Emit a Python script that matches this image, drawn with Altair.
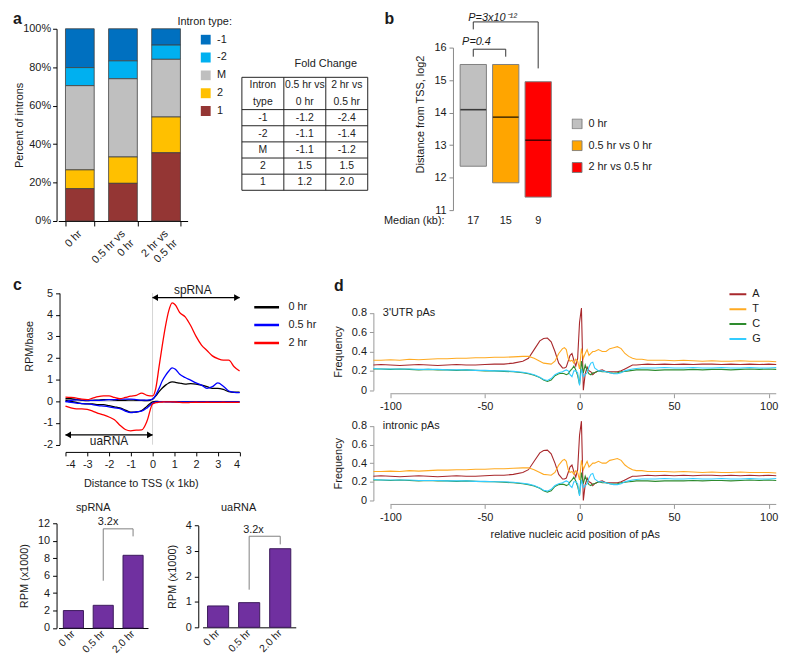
import altair as alt
import pandas as pd

FONT = "Liberation Sans"
W, H = 700, 500
INK = "#1a1a1a"


def cx(v):
    return v - 8


def cy(v):
    return v - 8


def band_scale(domain, c_first, c_last, bar_w):
    n = len(domain)
    step = (c_last - c_first) / (n - 1)
    pad = 1 - bar_w / step
    return alt.Scale(type="band", domain=domain,
                     range=[cx(c_first - step / 2), cx(c_last + step / 2)],
                     paddingInner=pad, paddingOuter=pad / 2)


def lin(domain, p0, p1, axis):
    f = cx if axis == "x" else cy
    return alt.Scale(type="linear", domain=domain, range=[f(p0), f(p1)], nice=False, zero=False)


def left_axis(x_ref, **kw):
    d = dict(orient="left", offset=-cx(x_ref), grid=False, tickSize=4, labelPadding=3)
    d.update(kw)
    return alt.Axis(**d)


def bottom_axis(y_ref, **kw):
    d = dict(orient="bottom", offset=cy(y_ref) - H, grid=False, tickSize=4, labelPadding=3)
    d.update(kw)
    return alt.Axis(**d)


def one():
    return pd.DataFrame({"k": [0]})


def free_text(txt, x_ref, y_ref, **kw):
    return alt.Chart(one()).mark_text(text=txt, **kw).encode(
        x=alt.value(cx(x_ref)), y=alt.value(cy(y_ref)))


# ====================== DATA ======================
# panel a
A_SAMPLES = ["0 hr", "0.5 hr vs 0 hr", "2 hr vs 0.5 hr"]
A_TYPES = ["-1", "-2", "M", "2", "1"]
A_COLORS = ["#0070C0", "#00B0F0", "#BFBFBF", "#FFC000", "#943634"]
A_PCT_N1 = [20.2, 16.7, 8.5]
A_PCT_N2 = [9.4, 9.3, 7.4]
A_PCT_M = [43.8, 40.7, 30.0]
A_PCT_2 = [9.8, 13.7, 18.6]
A_PCT_1 = [16.8, 19.6, 35.5]

# fold-change table
T_HEAD1 = ["Intron", "0.5 hr vs", "2 hr vs"]
T_HEAD2 = ["type", "0 hr", "0.5 hr"]
T_TYPES = ["-1", "-2", "M", "2", "1"]
T_FC_05 = ["-1.2", "-1.1", "-1.1", "1.5", "1.2"]
T_FC_2 = ["-2.4", "-1.4", "-1.2", "1.5", "2.0"]

# panel b
B_GROUPS = ["0 hr", "0.5 hr vs 0 hr", "2 hr vs 0.5 hr"]
B_COLORS = ["#C0C0C0", "#FFA500", "#FF0000"]
B_Q1 = [12.35, 11.84, 11.40]
B_Q3 = [15.48, 15.48, 14.95]
B_MED = [14.09, 13.86, 13.15]
B_MEDIAN_KB = ["17", "15", "9"]
B_P_SMALL = "P=0.4"
B_P_BIG = "P=3x10\u207b\u00b9\u00b2"

# panel c (metagene)
C_X = [-4, -3.75, -3.5, -3.25, -3, -2.75, -2.5, -2.25, -2, -1.75, -1.5, -1.25, -1, -0.75,
       -0.5, -0.25, 0, 0.15, 0.3, 0.45, 0.6, 0.75, 0.9, 1.05, 1.25, 1.5, 1.75, 2, 2.25, 2.5,
       2.75, 3, 3.25, 3.5, 3.75, 4]
C_0HR_SENSE = [0.12, 0.12, 0.08, 0.05, 0.03, 0.05, 0.06, 0.08, 0.08, 0.06, 0.05, 0.05, 0.06,
               0.05, 0.05, 0.03, 0.10, 0.25, 0.45, 0.62, 0.75, 0.85, 0.90, 0.88, 0.84, 0.80,
               0.82, 0.80, 0.75, 0.68, 0.60, 0.60, 0.55, 0.45, 0.42, 0.42]
C_0HR_ANTI = [0.05, 0.0, -0.05, -0.10, -0.12, -0.12, -0.15, -0.15, -0.20, -0.25, -0.30, -0.40,
              -0.50, -0.50, -0.42, -0.22, -0.02, 0.0, -0.01, -0.01, -0.01, -0.01, -0.02, -0.02,
              -0.02, -0.02, -0.02, -0.02, -0.02, -0.02, -0.02, -0.02, -0.02, -0.02, -0.02, -0.02]
C_05HR_SENSE = [-0.02, 0.05, 0.07, 0.06, 0.05, 0.05, 0.05, 0.06, 0.08, 0.08, 0.10, 0.10, 0.10,
                0.08, 0.06, 0.06, 0.10, 0.30, 0.60, 0.95, 1.20, 1.40, 1.55, 1.48, 1.25, 1.10,
                0.98, 0.85, 0.75, 0.60, 0.68, 0.85, 0.70, 0.48, 0.42, 0.40]
C_05HR_ANTI = [0.0, -0.05, -0.08, -0.10, -0.12, -0.15, -0.20, -0.22, -0.25, -0.30, -0.33, -0.45,
               -0.52, -0.48, -0.45, -0.30, -0.08, -0.02, -0.01, -0.01, -0.02, -0.02, -0.02, -0.02,
               -0.02, -0.02, -0.02, -0.02, -0.02, -0.02, -0.03, -0.03, -0.02, -0.02, -0.02, -0.02]
C_2HR_SENSE = [0.20, 0.18, 0.15, 0.10, 0.08, 0.15, 0.22, 0.25, 0.25, 0.18, 0.12, 0.18, 0.24,
               0.28, 0.38, 0.28, 0.25, 0.60, 1.60, 2.60, 3.50, 4.20, 4.55, 4.45, 4.10, 3.90,
               3.50, 3.00, 2.60, 2.35, 2.10, 1.97, 1.90, 1.90, 1.60, 1.40]
C_2HR_ANTI = [-0.22, -0.30, -0.35, -0.35, -0.37, -0.45, -0.55, -0.62, -0.72, -0.85, -1.10, -1.30,
              -1.36, -1.33, -1.32, -0.90, -0.12, -0.06, -0.04, -0.03, -0.02, -0.02, -0.02, -0.03,
              -0.05, -0.06, -0.05, -0.04, -0.05, -0.04, -0.05, -0.05, -0.04, -0.05, -0.05, -0.05]
C_CONDS = ["0 hr", "0.5 hr", "2 hr"]
C_COLORS = ["#000000", "#0000FF", "#FF0000"]

# panel c bottom bars
RPM_TIMES = ["0 hr", "0.5 hr", "2.0 hr"]
SP_RPM = [2.0, 2.6, 8.33]
UA_RPM = [0.84, 0.97, 3.09]
FOLD_LABEL = "3.2x"

# panel d (nucleotide frequency)
D_POS = [-109, -105, -100, -95, -90, -85, -80, -75, -70, -65, -60, -55, -50, -45, -40, -35,
         -30, -27, -24, -21, -19, -17, -15, -13, -11, -9,
         -8, -7, -6, -5, -4, -3, -2, -1, 0, 1, 2, 3, 4, 5, 6, 7, 8,
         10, 12, 14, 16, 18, 20, 22, 24, 26, 28, 30,
         33, 36, 40, 45, 50, 55, 60, 65, 70, 75, 80, 85, 90, 95, 100, 104]
D_A = [0.26, 0.265, 0.26, 0.255, 0.26, 0.265, 0.26, 0.255, 0.26, 0.265, 0.26, 0.26, 0.265, 0.27, 0.27, 0.28,
       0.30, 0.33, 0.42, 0.51, 0.535, 0.54, 0.50, 0.40, 0.28, 0.23,
       0.23, 0.24, 0.30, 0.36, 0.38, 0.31, 0.25, 0.33, 0.70, 0.85, 0.0, 0.17, 0.24, 0.20, 0.19, 0.16, 0.18,
       0.20, 0.21, 0.19, 0.19, 0.19, 0.19, 0.20, 0.22, 0.24, 0.26, 0.26,
       0.265, 0.27, 0.265, 0.27, 0.265, 0.27, 0.265, 0.27, 0.27, 0.265, 0.27, 0.265, 0.27, 0.265, 0.27, 0.265]
D_T = [0.31, 0.31, 0.315, 0.31, 0.32, 0.315, 0.32, 0.325, 0.325, 0.33, 0.33, 0.335, 0.335, 0.34, 0.34, 0.345,
       0.35, 0.35, 0.33, 0.30, 0.28, 0.275, 0.27, 0.30, 0.38, 0.43,
       0.44, 0.42, 0.33, 0.30, 0.31, 0.28, 0.32, 0.30, 0.22, 0.43, 0.33, 0.38, 0.42, 0.36, 0.38, 0.40, 0.40,
       0.42, 0.40, 0.40, 0.43, 0.44, 0.45, 0.43, 0.38, 0.35, 0.33, 0.32,
       0.32, 0.31, 0.31, 0.31, 0.305, 0.31, 0.305, 0.30, 0.305, 0.30, 0.30, 0.305, 0.30, 0.30, 0.30, 0.295]
D_C = [0.22, 0.22, 0.215, 0.22, 0.215, 0.21, 0.215, 0.21, 0.21, 0.205, 0.21, 0.205, 0.20, 0.20, 0.195, 0.19,
       0.18, 0.17, 0.155, 0.13, 0.105, 0.09, 0.105, 0.15, 0.17, 0.175,
       0.17, 0.16, 0.17, 0.20, 0.22, 0.25, 0.21, 0.15, 0.06, 0.30, 0.18, 0.26, 0.20, 0.17, 0.16, 0.18, 0.18,
       0.20, 0.19, 0.19, 0.18, 0.175, 0.18, 0.19, 0.195, 0.20, 0.205, 0.21,
       0.21, 0.21, 0.205, 0.21, 0.21, 0.21, 0.215, 0.21, 0.215, 0.215, 0.21, 0.215, 0.22, 0.215, 0.22, 0.215]
D_G = [0.225, 0.22, 0.22, 0.22, 0.22, 0.215, 0.215, 0.215, 0.21, 0.21, 0.21, 0.205, 0.205, 0.20, 0.20, 0.195,
       0.185, 0.175, 0.16, 0.135, 0.11, 0.10, 0.12, 0.16, 0.18, 0.19,
       0.20, 0.21, 0.20, 0.16, 0.14, 0.20, 0.20, 0.18, 0.05, 0.22, 0.14, 0.16, 0.18, 0.24, 0.28, 0.29, 0.23,
       0.20, 0.20, 0.19, 0.18, 0.17, 0.17, 0.18, 0.20, 0.21, 0.22, 0.225,
       0.23, 0.23, 0.23, 0.235, 0.23, 0.23, 0.235, 0.23, 0.23, 0.235, 0.23, 0.23, 0.235, 0.23, 0.23, 0.235]
D_NUCS = ["A", "T", "C", "G"]
D_COLORS = ["#A8282C", "#FFAA22", "#2E8B2E", "#33CCFF"]
D_TICKS = [-100, -50, 0, 50, 100]

units = []

# ====================== PANEL A ======================
a_rows = []
for k, (t, vals) in enumerate(zip(A_TYPES, [A_PCT_N1, A_PCT_N2, A_PCT_M, A_PCT_2, A_PCT_1])):
    for s, v in zip(A_SAMPLES, vals):
        a_rows.append({"sample": s, "itype": t, "pct": v, "stk": len(A_TYPES) - k})

xA = alt.X("sample:N", sort=A_SAMPLES, scale=band_scale(A_SAMPLES, 75.5, 162.5, 29),
           axis=bottom_axis(220, title=None, labelAngle=-45, labelAlign="right",
                            labelBaseline="middle", labelPadding=6, tickSize=5, tickBand="extent",
                            labelExpr="isValid(datum.value) ? split(replace(datum.value, 'vs ', 'vs|'), '|') : ''"))
yA = alt.Y("pct:Q", stack="zero", scale=lin([0, 100], 220, 26, "y"),
           axis=left_axis(52, title="Percent of introns", values=[0, 20, 40, 60, 80, 100],
                          labelExpr="datum.value + '%'", tickSize=4, labelPadding=2,
                          titleX=7 - cx(52), titleBaseline="middle"))
cA = alt.Color("itype:N", scale=alt.Scale(domain=A_TYPES, range=A_COLORS),
               legend=alt.Legend(orient="none", legendX=cx(197), legendY=cy(31.5), title=None,
                                 symbolType="square", symbolSize=100, symbolStrokeWidth=0, clipHeight=11,
                                 labelOffset=6, rowPadding=6, padding=0))
units.append(alt.Chart(pd.DataFrame(a_rows)).mark_bar(stroke="#404040", strokeWidth=0.8).encode(
    x=xA, y=yA, color=cA, order=alt.Order("stk:Q")))
units.append(free_text("Intron type:", 174, 19, align="left", baseline="middle", fontSize=11))

# ====================== TABLE ======================
t_lines = [T_HEAD1, T_HEAD2] + [list(r) for r in zip(T_TYPES, T_FC_05, T_FC_2)]
n_r, n_c = len(t_lines), len(T_HEAD1)
t_cells = pd.DataFrame([{"col": j + 0.5, "row": i + 0.5, "txt": t}
                        for i, line in enumerate(t_lines) for j, t in enumerate(line)])
t_rules = pd.DataFrame(
    [{"x": 0, "x2": n_c, "y": i, "y2": i} for i in [0] + list(range(2, n_r + 1))]
    + [{"x": j, "x2": j, "y": 0, "y2": n_r} for j in range(n_c + 1)])


def sx_t():
    return lin([0, n_c], 239, 366, "x")


def sy_t():
    return lin([0, n_r], 75, 189, "y")


units.append(alt.Chart(t_rules).mark_rule(color="#222", strokeWidth=1).encode(
    x=alt.X("x:Q", scale=sx_t(), axis=None), x2="x2:Q",
    y=alt.Y("y:Q", scale=sy_t(), axis=None), y2="y2:Q"))
units.append(alt.Chart(t_cells).mark_text(fontSize=10.5, color="#222").encode(
    x=alt.X("col:Q", scale=sx_t(), axis=None), y=alt.Y("row:Q", scale=sy_t(), axis=None), text="txt:N"))
units.append(alt.Chart(pd.DataFrame({"col": [2.0], "row": [-0.8], "txt": ["Fold Change"]})).mark_text(
    fontSize=11, color="#222").encode(
    x=alt.X("col:Q", scale=sx_t(), axis=None), y=alt.Y("row:Q", scale=sy_t(), axis=None), text="txt:N"))

# ====================== PANEL B ======================
b_df = pd.DataFrame({"grp": B_GROUPS, "q1": B_Q1, "q3": B_Q3, "med": B_MED})


def sxB():
    return band_scale(B_GROUPS, 472.5, 538.0, 26.5)


def syB():
    return lin([11, 16], 209, 45, "y")


med_expr = " : ".join(f"datum.value == '{g}' ? '{m}'" for g, m in zip(B_GROUPS[:-1], B_MEDIAN_KB[:-1])) \
    + f" : '{B_MEDIAN_KB[-1]}'"
xB = alt.X("grp:N", sort=B_GROUPS, scale=sxB(),
           axis=bottom_axis(211, title="Median (kb):", domain=False, ticks=False, labelAngle=0,
                            labelPadding=3, labelExpr=med_expr, titleAngle=0, titleAlign="right",
                            titleBaseline="top", titleX=cx(443), titleY=3))
yB = alt.Y("q1:Q", scale=syB(), axis=left_axis(452, title="Distance from TSS, log2", values=[11, 12, 13, 14, 15, 16],
                                               domainColor="#888", tickColor="#888", titlePadding=8,
                                               titleY=cy(112)))
cB = alt.Color("grp:N", scale=alt.Scale(domain=B_GROUPS, range=B_COLORS),
               legend=alt.Legend(orient="none", legendX=cx(571.7), legendY=cy(116.5), title=None,
                                 symbolType="square", symbolSize=100, symbolStrokeColor="#7f7f7f",
                                 symbolStrokeWidth=1, clipHeight=11, labelOffset=6, rowPadding=10, padding=0))
units.append(alt.Chart(b_df).mark_bar(stroke="#7f7f7f", strokeWidth=1).encode(x=xB, y=yB, y2="q3:Q", color=cB))
units.append(alt.Chart(b_df).mark_tick(color="black", thickness=1.6, size=26).encode(
    x=alt.X("grp:N", sort=B_GROUPS, scale=sxB(), axis=None),
    y=alt.Y("med:Q", scale=syB(), axis=None)))
br_rows = []
for bid, (g1, g2, ya, yt, yb) in enumerate([(B_GROUPS[0], B_GROUPS[1], 15.72, 15.95, 15.72),
                                            (B_GROUPS[0], B_GROUPS[2], 16.56, 16.79, 15.36)]):
    for o, (g, yv) in enumerate([(g1, ya), (g1, yt), (g2, yt), (g2, yb)]):
        br_rows.append({"grp": g, "yv": yv, "bid": bid, "o": o})
units.append(alt.Chart(pd.DataFrame(br_rows)).mark_line(color="#333", strokeWidth=1).encode(
    x=alt.X("grp:N", sort=B_GROUPS, scale=sxB(), axis=None),
    y=alt.Y("yv:Q", scale=syB(), axis=None), detail="bid:N", order="o:Q"))
units.append(alt.Chart(pd.DataFrame({"grp": [B_GROUPS[0], B_GROUPS[1]], "yv": [16.17, 16.9],
                                     "txt": [B_P_SMALL, B_P_BIG], "dx": [16.5, 0]})).mark_text(
    fontStyle="italic", fontSize=11, baseline="middle").encode(
    x=alt.X("grp:N", sort=B_GROUPS, scale=sxB(), axis=None),
    y=alt.Y("yv:Q", scale=syB(), axis=None), text="txt:N",
    xOffset=alt.XOffset("dx:Q", scale=None)))

# ====================== PANEL C (lines) ======================
c_rows = []
for cond, sense, anti in zip(C_CONDS, [C_0HR_SENSE, C_05HR_SENSE, C_2HR_SENSE],
                             [C_0HR_ANTI, C_05HR_ANTI, C_2HR_ANTI]):
    for strand, vals in (("sense", sense), ("anti", anti)):
        for xv, yv in zip(C_X, vals):
            c_rows.append({"x": xv, "y": yv, "cond": cond, "strand": strand})


def sxC():
    return lin([-4, 4], 61, 236.7, "x")


def syC():
    return lin([-2, 5], 445.7, 292.7, "y")


zero_df = pd.DataFrame({"x": [-4, 0], "x2": [4, 0], "y": [0, -2], "y2": [0, 5]})
units.append(alt.Chart(zero_df).mark_rule(color="#d4d4d4", strokeWidth=1).encode(
    x=alt.X("x:Q", scale=sxC(), axis=None), x2="x2:Q", y=alt.Y("y:Q", scale=syC(), axis=None), y2="y2:Q"))
units.append(alt.Chart(pd.DataFrame(c_rows)).mark_line(strokeWidth=1.3, interpolate="monotone").encode(
    x=alt.X("x:Q", scale=sxC(), axis=bottom_axis(453, title="Distance to TSS (x 1kb)", values=list(range(-4, 5)),
                                                labelExpr="'' + datum.value", titlePadding=8,
                                                titleX=cx(137))),
    y=alt.Y("y:Q", scale=syC(), axis=left_axis(55, title="RPM/base", values=list(range(-2, 6)),
                                               labelExpr="'' + datum.value", titlePadding=8,
                                               titleY=cy(346))),
    color=alt.Color("cond:N", scale=alt.Scale(domain=C_CONDS, range=C_COLORS),
                    legend=alt.Legend(orient="none", legendX=cx(250), legendY=cy(301.5), title=None,
                                      symbolType="stroke", symbolSize=625, symbolStrokeWidth=2.5,
                                      clipHeight=11, labelOffset=8, rowPadding=6, padding=0)),
    detail="strand:N"))
arrow_df = pd.DataFrame({"x": [0, -4], "x2": [4, 0], "y": [4.79, -1.55]})
units.append(alt.Chart(arrow_df).mark_rule(color="black", strokeWidth=1.3).encode(
    x=alt.X("x:Q", scale=sxC(), axis=None), x2="x2:Q", y=alt.Y("y:Q", scale=syC(), axis=None)))
units.append(alt.Chart(pd.DataFrame({"x": [0.12, -3.88], "y": [4.79, -1.55]})).mark_point(
    shape="triangle-left", filled=True, color="black", size=45, opacity=1).encode(
    x=alt.X("x:Q", scale=sxC(), axis=None), y=alt.Y("y:Q", scale=syC(), axis=None)))
units.append(alt.Chart(pd.DataFrame({"x": [3.88, -0.12], "y": [4.79, -1.55]})).mark_point(
    shape="triangle-right", filled=True, color="black", size=45, opacity=1).encode(
    x=alt.X("x:Q", scale=sxC(), axis=None), y=alt.Y("y:Q", scale=syC(), axis=None)))
units.append(alt.Chart(pd.DataFrame({"x": [1.85, -2.0], "y": [5.12, -1.85], "t": ["spRNA", "uaRNA"]})).mark_text(
    fontSize=12, baseline="middle").encode(
    x=alt.X("x:Q", scale=sxC(), axis=None), y=alt.Y("y:Q", scale=syC(), axis=None), text="t:N"))


# ====================== PANEL C (bars) ======================
SHIFT = -6  # small upward shift so the rotated labels stay inside the page


def rpm_panel(values, c_first, c_last, bar_w, y_max, y_step, y0_ref, ytop_ref, axis_x_ref,
              br_low, br_top, br_right, fold_y, title, title_y):
    y0_ref += SHIFT
    ytop_ref += SHIFT

    def sx():
        return band_scale(RPM_TIMES, c_first, c_last, bar_w)

    def sy():
        return lin([0, y_max], y0_ref, ytop_ref, "y")

    df = pd.DataFrame({"t": RPM_TIMES, "v": values})
    bars = alt.Chart(df).mark_bar(color="#7030A0", stroke="#3C1A5B", strokeWidth=1).encode(
        x=alt.X("t:N", sort=RPM_TIMES, scale=sx(),
                axis=bottom_axis(y0_ref, title=None, ticks=False, labelAngle=-45, labelAlign="right",
                                 labelBaseline="middle", labelPadding=4, labelFontSize=10.5)),
        y=alt.Y("v:Q", scale=sy(), axis=left_axis(axis_x_ref, title="RPM (x1000)",
                                                   values=list(range(0, y_max + 1, y_step)), titlePadding=8)))
    bdf = pd.DataFrame({"t": [RPM_TIMES[1], RPM_TIMES[1], RPM_TIMES[2], RPM_TIMES[2]],
                        "v": [br_low, br_top, br_top, br_right], "o": [0, 1, 2, 3]})
    br = alt.Chart(bdf).mark_line(color="#7f7f7f", strokeWidth=1).encode(
        x=alt.X("t:N", sort=RPM_TIMES, scale=sx(), axis=None),
        y=alt.Y("v:Q", scale=sy(), axis=None), order="o:Q")
    txt = alt.Chart(pd.DataFrame({"t": [RPM_TIMES[1], RPM_TIMES[1]], "v": [fold_y, title_y],
                                  "s": [FOLD_LABEL, title], "dx": [15, 0]})).mark_text(
        fontSize=11, baseline="middle").encode(
        x=alt.X("t:N", sort=RPM_TIMES, scale=sx(), axis=None),
        y=alt.Y("v:Q", scale=sy(), axis=None), text="s:N", xOffset=alt.XOffset("dx:Q", scale=None))
    return [bars, br, txt]


units += rpm_panel(SP_RPM, 69, 129.2, 20.3, 12, 2, 636.7, 531, 52, 5.42, 11.36, 10.5, 12.1, "spRNA", 13.8)
units += rpm_panel(UA_RPM, 215, 277.7, 21.3, 4, 1, 636, 533.3, 195, 1.48, 3.58, 3.26, 3.81, "uaRNA", 4.7)

# ====================== PANEL D ======================
d_rows = []
for nuc, vals in zip(D_NUCS, [D_A, D_T, D_C, D_G]):
    for p, v in zip(D_POS, vals):
        d_rows.append({"pos": p, "f": v, "nuc": nuc})
d_df = pd.DataFrame(d_rows)
D_DOMAIN = [-109, 104]


def sxD():
    return alt.Scale(type="linear", domain=D_DOMAIN,
                     range=[cx(371.7), cx(371.7 + (D_DOMAIN[1] - D_DOMAIN[0]) * 1.9085)],
                     nice=False, zero=False)


def d_panel(y0_ref, ytop_ref, xaxis_ref, xtitle, tag, legend):
    def sy():
        return lin([0, 0.8], y0_ref, ytop_ref, "y")

    ax_kw = dict(values=D_TICKS, labelExpr="'' + datum.value", domain=False,
                 tickColor="#999", title=xtitle if xtitle else None, titlePadding=6)
    lines = alt.Chart(d_df).mark_line(strokeWidth=1.1).encode(
        x=alt.X("pos:Q", scale=sxD(), axis=bottom_axis(xaxis_ref, **ax_kw)),
        y=alt.Y("f:Q", scale=sy(), axis=left_axis(371.7, title="Frequency", values=[0, 0.2, 0.4, 0.6, 0.8],
                                                  labelExpr="'' + datum.value", domainColor="#999",
                                                  tickColor="#999", titlePadding=8)),
        color=alt.Color("nuc:N", scale=alt.Scale(domain=D_NUCS, range=D_COLORS), legend=legend))
    # x-axis baseline that starts at the first tick, as in the original figure
    base_y = -(xaxis_ref - y0_ref) * 0.8 / (y0_ref - ytop_ref)
    baseline = alt.Chart(pd.DataFrame({"pos": [D_TICKS[0]], "pos2": [D_DOMAIN[1]], "f": [base_y]})).mark_rule(
        color="#999", strokeWidth=1).encode(
        x=alt.X("pos:Q", scale=sxD(), axis=None), x2="pos2:Q", y=alt.Y("f:Q", scale=sy(), axis=None))
    tag_t = alt.Chart(pd.DataFrame({"pos": [-104], "f": [0.8], "s": [tag]})).mark_text(
        fontSize=11, align="left", baseline="middle").encode(
        x=alt.X("pos:Q", scale=sxD(), axis=None), y=alt.Y("f:Q", scale=sy(), axis=None), text="s:N")
    return [lines, baseline, tag_t]


leg_d = alt.Legend(orient="none", legendX=cx(730), legendY=cy(288.5), title=None, symbolType="stroke",
                   symbolSize=289, symbolStrokeWidth=2, clipHeight=11, labelOffset=5, rowPadding=3, padding=0)
units += d_panel(390.7, 312.7, 394.3, "", "3'UTR pAs", leg_d)
units += d_panel(502, 426.7, 506, "relative nucleic acid position of pAs", "intronic pAs", None)

# ====================== LETTERS ======================
units += [free_text(t, x, y, align="left", baseline="alphabetic", fontSize=16, fontWeight="bold")
          for t, x, y in [("a", 8, 21), ("b", 383, 21), ("c", 8, 290), ("d", 332, 291)]]

chart = alt.layer(*units).resolve_scale(
    x="independent", y="independent", color="independent"
).properties(width=W, height=H, padding=0).configure(font=FONT).configure_view(stroke=None).configure_axis(
    grid=False, labelFont=FONT, titleFont=FONT, labelFontSize=11, titleFontSize=11,
    titleFontWeight="normal", labelColor=INK, titleColor=INK, domainColor="#000", tickColor="#000"
).configure_legend(labelFont=FONT, labelFontSize=11, labelColor=INK).configure_text(font=FONT, color=INK)

chart.save("out.html", embed_options={"renderer": "svg", "actions": False})
